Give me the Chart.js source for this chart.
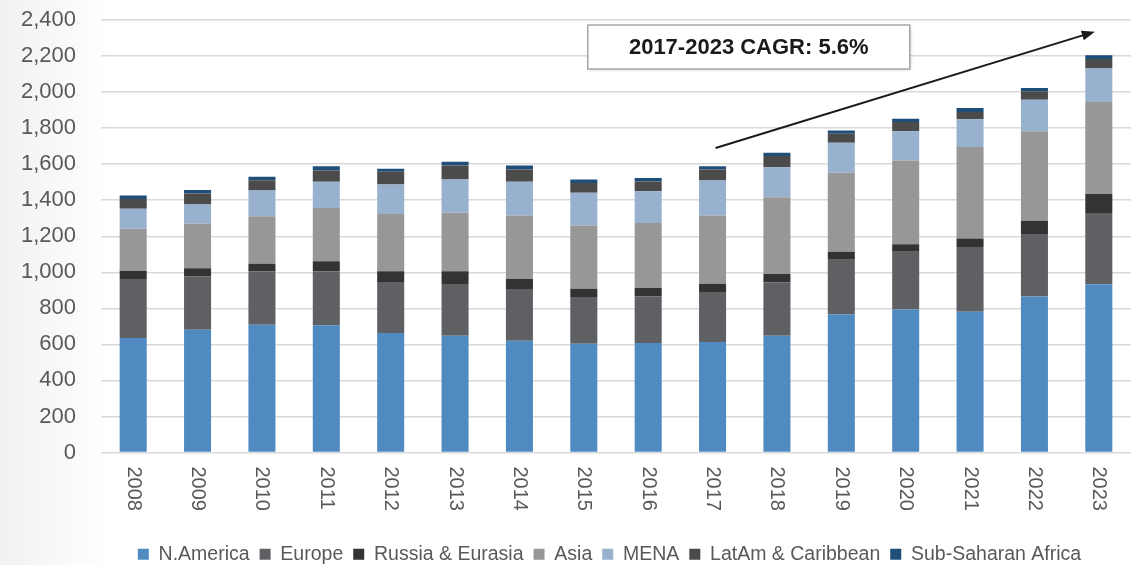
<!DOCTYPE html>
<html>
<head>
<meta charset="utf-8">
<script src="https://cdn.jsdelivr.net/npm/chart.js@4/dist/chart.umd.min.js"></script>
<style>
  html, body { margin: 0; padding: 0; background: #fff; }
  #wrap { width: 1136px; height: 565px; background: linear-gradient(to right, #f1f1f1 0px, #ffffff 110px); }
</style>
</head>
<body>
<div id="wrap"><canvas id="myChart" width="1136" height="565"></canvas></div>
<script>
const years = ['2008', '2009', '2010', '2011', '2012', '2013', '2014', '2015',
  '2016', '2017', '2018', '2019', '2020', '2021', '2022', '2023']

// values
const nAmerica = [635, 681, 709, 706, 663, 648, 620, 604, 608, 613, 648, 767, 794, 781, 865, 934]
const europe = [328, 297, 297, 300, 283, 287, 287, 259, 259, 278, 297, 302, 320, 360, 347, 395]
const russia = [46, 44, 42, 55, 60, 71, 56, 46, 46, 46, 46, 45, 42, 47, 74, 106]
const asia = [232, 247, 263, 296, 318, 324, 352, 350, 361, 378, 426, 438, 464, 507, 496, 510]
const mena = [111, 107, 143, 145, 163, 185, 187, 182, 176, 194, 166, 167, 162, 154, 176, 186]
const latAm = [55, 61, 57, 63, 71, 78, 68, 55, 54, 61, 62, 50, 52, 40, 46, 52]
const subSahara = [19, 19, 19, 24, 16, 20, 23, 19, 19, 19, 18, 18, 18, 23, 19, 22]

const yTicks = [0, 200, 400, 600, 800, 1000, 1200, 1400, 1600, 1800, 2000, 2200, 2400]

const cagrText = '2017-2023 CAGR: 5.6%'

const font = '"Liberation Sans", Arial, sans-serif'
const textGrey = '#595959'

// year labels run top to bottom under each bar
const yearLabels = {
  id: 'yearLabels',
  afterDraw(chart) {
    const {ctx, chartArea} = chart
    const x = chart.scales.x
    ctx.save()
    ctx.font = '20px ' + font
    ctx.fillStyle = textGrey
    ctx.textAlign = 'left'
    ctx.textBaseline = 'middle'
    years.forEach((yr, i) => {
      ctx.save()
      ctx.translate(x.getPixelForValue(i), chartArea.bottom + 14)
      ctx.rotate(Math.PI / 2)
      ctx.fillText(yr, 0, 0)
      ctx.restore()
    })
    ctx.restore()
  }
}

// the original legend sits a bit right of centre
const legendShift = {
  id: 'legendShift',
  afterLayout(chart) {
    chart.legend.left += 44
    chart.legend.right += 44
  }
}

// CAGR box and arrow
const cagrNote = {
  id: 'cagrNote',
  afterDatasetsDraw(chart) {
    const {ctx} = chart
    const x = chart.scales.x
    const y = chart.scales.y
    const x0 = x.getPixelForValue(9) + 3
    const y0 = y.getPixelForValue(1690)
    const x1 = x.getPixelForValue(15) - 4
    const y1 = y.getPixelForValue(2335)
    ctx.save()
    ctx.strokeStyle = '#1a1a1a'
    ctx.fillStyle = '#1a1a1a'
    ctx.lineWidth = 2
    const ang = Math.atan2(y1 - y0, x1 - x0)
    ctx.beginPath()
    ctx.moveTo(x0, y0)
    ctx.lineTo(x1 - 10 * Math.cos(ang), y1 - 10 * Math.sin(ang))
    ctx.stroke()
    ctx.beginPath()
    ctx.moveTo(x1, y1)
    ctx.lineTo(x1 - 13 * Math.cos(ang) + 5 * Math.sin(ang), y1 - 13 * Math.sin(ang) - 5 * Math.cos(ang))
    ctx.lineTo(x1 - 13 * Math.cos(ang) - 5 * Math.sin(ang), y1 - 13 * Math.sin(ang) + 5 * Math.cos(ang))
    ctx.closePath()
    ctx.fill()

    const cx = (x.getPixelForValue(9) + x.getPixelForValue(10)) / 2 + 4
    const cy = y.getPixelForValue(2250)
    const w = 322, h = 44
    ctx.shadowColor = 'rgba(0,0,0,0.25)'
    ctx.shadowBlur = 3
    ctx.shadowOffsetX = 1
    ctx.shadowOffsetY = 1
    ctx.fillStyle = '#ffffff'
    ctx.fillRect(cx - w / 2, cy - h / 2, w, h)
    ctx.shadowColor = 'transparent'
    ctx.strokeStyle = '#a6a6a6'
    ctx.lineWidth = 1.5
    ctx.strokeRect(cx - w / 2, cy - h / 2, w, h)
    ctx.fillStyle = '#1a1a1a'
    ctx.font = 'bold 22px ' + font
    ctx.textAlign = 'center'
    ctx.textBaseline = 'middle'
    ctx.fillText(cagrText, cx, cy + 1)
    ctx.restore()
  }
}

const series = [
  {label: 'N.America', data: nAmerica, color: '#4f8bc0'},
  {label: 'Europe', data: europe, color: '#5f6064'},
  {label: 'Russia & Eurasia', data: russia, color: '#333333'},
  {label: 'Asia', data: asia, color: '#979797'},
  {label: 'MENA', data: mena, color: '#98b1cf'},
  {label: 'LatAm & Caribbean', data: latAm, color: '#4b4b4b'},
  {label: 'Sub-Saharan Africa', data: subSahara, color: '#1f4e79'},
]

const ctx = document.getElementById('myChart').getContext('2d')

const config = {
  type: 'bar',
  data: {
    labels: years,
    datasets: series.map(s => ({
      label: s.label,
      data: s.data,
      backgroundColor: s.color,
      borderWidth: 0,
      barPercentage: 1,
      categoryPercentage: 0.42
    }))
  },
  options: {
    responsive: false,
    animation: false,
    layout: {padding: {top: 20, right: 5, left: 0, bottom: -9}},
    plugins: {
      tooltip: {enabled: false},
      legend: {
        position: 'bottom',
        labels: {
          boxWidth: 11,
          boxHeight: 11,
          padding: 10,
          color: textGrey,
          font: {family: font, size: 19.5}
        }
      }
    },
    scales: {
      x: {
        stacked: true,
        grid: {display: false},
        border: {display: false},
        ticks: {display: false},
        afterFit(scale) { scale.height = 82 }
      },
      y: {
        stacked: true,
        min: 0,
        max: 2400,
        afterBuildTicks(scale) { scale.ticks = yTicks.map(v => ({value: v})) },
        afterFit(scale) {
          scale.width = 101
          scale.paddingTop = 0
          scale.paddingBottom = 0
        },
        grid: {color: '#d9d9d9', lineWidth: 1.5, drawTicks: false},
        border: {display: false},
        ticks: {
          padding: 25,
          color: textGrey,
          font: {family: font, size: 22},
          callback: v => v.toLocaleString('en-US')
        }
      }
    }
  },
  plugins: [yearLabels, legendShift, cagrNote]
}

const myChart = new Chart(ctx, config)
</script>
</body>
</html>
